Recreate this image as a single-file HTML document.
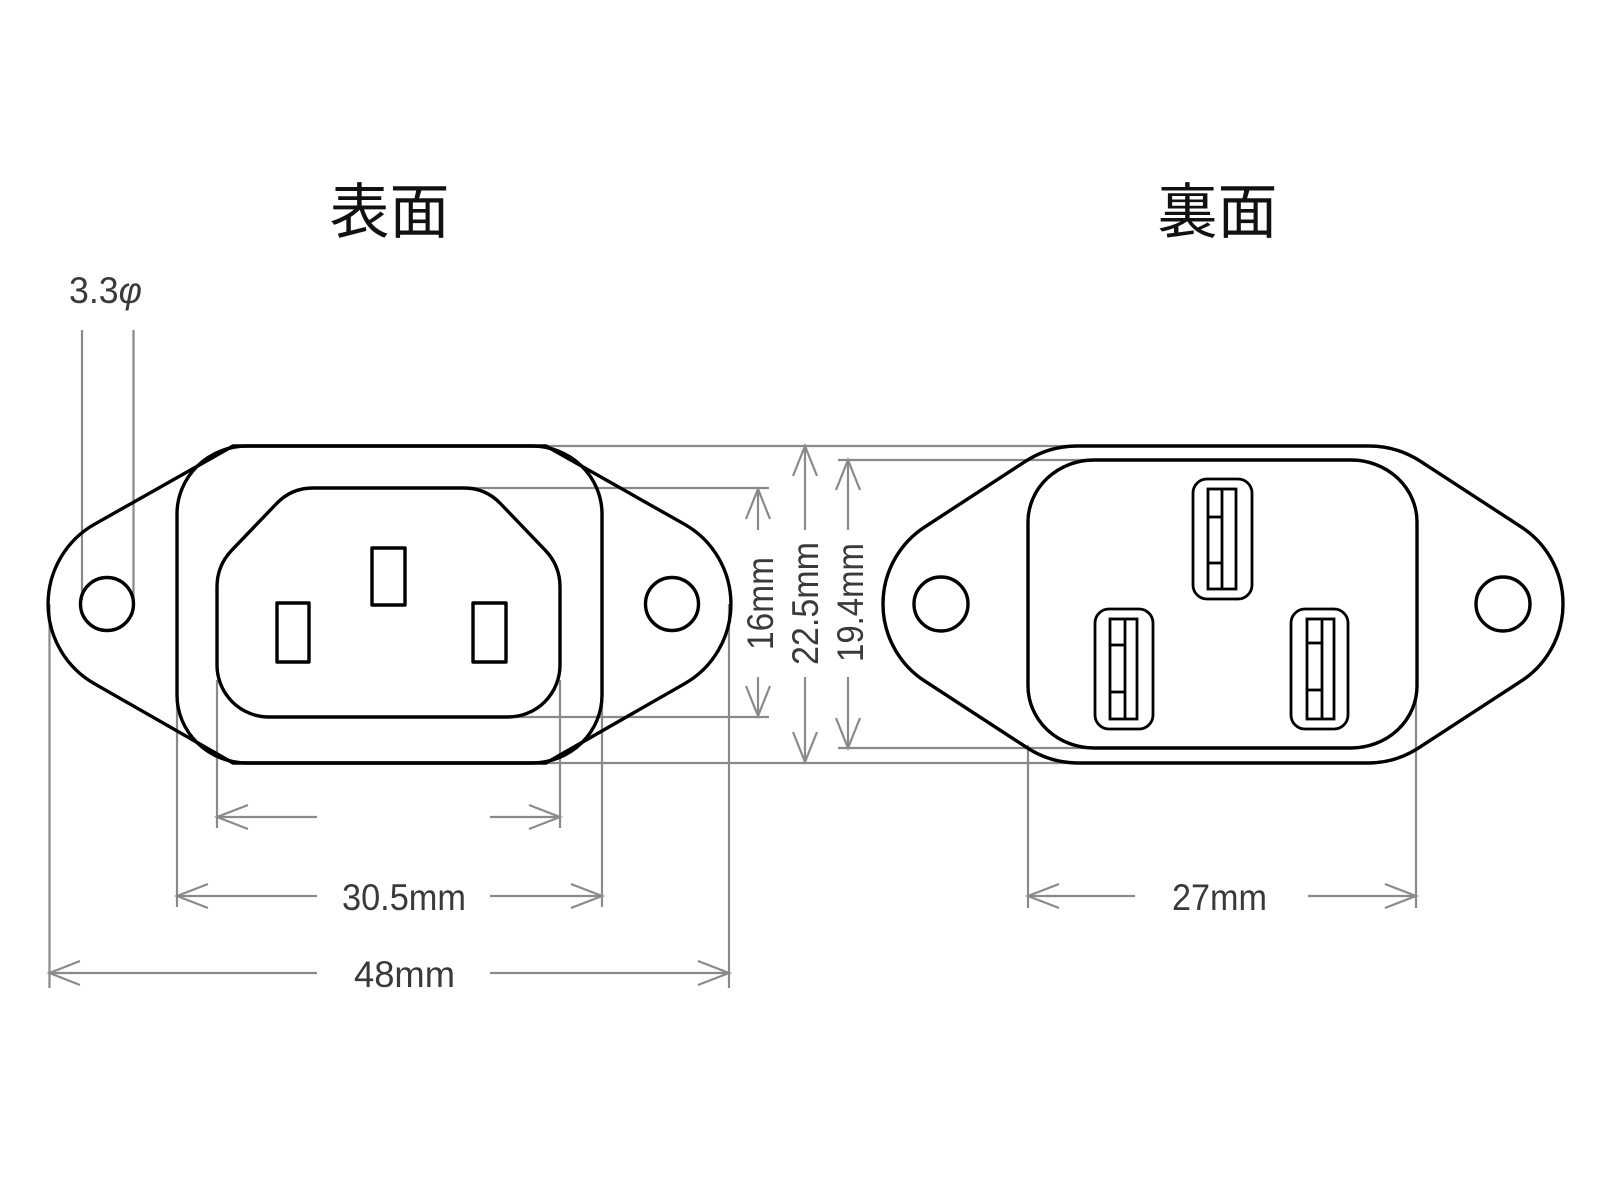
<!DOCTYPE html>
<html>
<head>
<meta charset="utf-8">
<style>
  html,body{margin:0;padding:0;background:#fff;}
  body{width:1600px;height:1200px;overflow:hidden;}
  svg{display:block;}
  .ol{fill:none;stroke:#000;stroke-width:3.4;stroke-linejoin:round;}
  .so{fill:none;stroke:#000;stroke-width:2.8;}
  .dm{fill:none;stroke:#8a8a8a;stroke-width:2.2;}
  .tx{font-family:"Liberation Sans","Noto Sans CJK JP",sans-serif;fill:#3a3a3a;font-size:37px;}
  .tt{font-family:"Liberation Sans","Noto Sans CJK JP",sans-serif;fill:#111;font-size:60px;}
</style>
</head>
<body>
<svg width="1600" height="1200" viewBox="0 0 1600 1200" xmlns="http://www.w3.org/2000/svg">
  <rect width="1600" height="1200" fill="#fff"/>

  <!-- Titles -->
  <text class="tt" x="389.5" y="233" text-anchor="middle">表面</text>
  <text class="tt" x="1217.5" y="233" text-anchor="middle">裏面</text>

  <!-- 3.3φ -->
  <text class="tx" x="69" y="303" font-size="38" textLength="73" lengthAdjust="spacingAndGlyphs">3.3<tspan font-style="italic">φ</tspan></text>

  <!-- ============ dimension lines (gray) ============ -->
  <g class="dm">
    <line x1="82" y1="330" x2="82" y2="600"/>
    <line x1="133.5" y1="330" x2="133.5" y2="600"/>

    <line x1="49.5" y1="604" x2="49.5" y2="988"/>
    <line x1="729" y1="604" x2="729" y2="988"/>
    <line x1="177" y1="700" x2="177" y2="907"/>
    <line x1="602" y1="700" x2="602" y2="907"/>
    <line x1="217" y1="680" x2="217" y2="828"/>
    <line x1="560" y1="680" x2="560" y2="828"/>

    <line x1="217" y1="817" x2="317" y2="817"/>
    <line x1="490" y1="817" x2="560" y2="817"/>
    <polyline points="248,805 217,817 248,829"/>
    <polyline points="529,805 560,817 529,829"/>

    <line x1="177" y1="896" x2="317" y2="896"/>
    <line x1="490" y1="896" x2="602" y2="896"/>
    <polyline points="208,884 177,896 208,908"/>
    <polyline points="571,884 602,896 571,908"/>

    <line x1="49.5" y1="973" x2="317" y2="973"/>
    <line x1="490" y1="973" x2="729" y2="973"/>
    <polyline points="80,961 49.5,973 80,985"/>
    <polyline points="698,961 729,973 698,985"/>

    <line x1="532" y1="446" x2="1077" y2="446"/>
    <line x1="532" y1="763" x2="1077" y2="763"/>
    <line x1="464" y1="488" x2="769" y2="488"/>
    <line x1="508" y1="717" x2="769" y2="717"/>
    <line x1="838" y1="460" x2="1093" y2="460"/>
    <line x1="838" y1="748" x2="1093" y2="748"/>

    <line x1="758" y1="489" x2="758" y2="530"/>
    <line x1="758" y1="677" x2="758" y2="716"/>
    <polyline points="746,519 758,489 770,519"/>
    <polyline points="746,686 758,716 770,686"/>

    <line x1="805" y1="446" x2="805" y2="530"/>
    <line x1="805" y1="677" x2="805" y2="762"/>
    <polyline points="793,476 805,446 817,476"/>
    <polyline points="793,732 805,762 817,732"/>

    <line x1="848" y1="460" x2="848" y2="530"/>
    <line x1="848" y1="677" x2="848" y2="748"/>
    <polyline points="836,490 848,460 860,490"/>
    <polyline points="836,718 848,748 860,718"/>

    <line x1="1028" y1="745" x2="1028" y2="908"/>
    <line x1="1416" y1="700" x2="1416" y2="908"/>
    <line x1="1028" y1="896" x2="1135" y2="896"/>
    <line x1="1308" y1="896" x2="1416" y2="896"/>
    <polyline points="1059,884 1028,896 1059,908"/>
    <polyline points="1385,884 1416,896 1385,908"/>
  </g>

  <!-- dimension texts -->
  <text class="tx" x="342" y="910" textLength="124" lengthAdjust="spacingAndGlyphs">30.5mm</text>
  <text class="tx" x="354" y="987" textLength="101" lengthAdjust="spacingAndGlyphs">48mm</text>
  <text class="tx" x="1172" y="910" textLength="95" lengthAdjust="spacingAndGlyphs">27mm</text>
  <text class="tx" transform="translate(773,650) rotate(-90)" x="0" y="0" textLength="93" lengthAdjust="spacingAndGlyphs">16mm</text>
  <text class="tx" transform="translate(818,665) rotate(-90)" x="0" y="0" textLength="123" lengthAdjust="spacingAndGlyphs">22.5mm</text>
  <text class="tx" transform="translate(863,662) rotate(-90)" x="0" y="0" textLength="119" lengthAdjust="spacingAndGlyphs">19.4mm</text>

  <!-- ============ Left connector (表面) ============ -->
  <g class="ol">
    <path d="M233,446 L546,446 L684.4,524.2 A91.7 91.7 0 0 1 684.4,683.8 L546,763 L233,763 L94.6,683.8 A91.7 91.7 0 0 1 94.6,524.2 Z"/>
    <rect x="177" y="446" width="425" height="317" rx="70" ry="68"/>
    <path d="M313,488 L464,488 Q485.5,488 500.4,503.5 L545.2,550.2 Q560,565.6 560,587 L560,665 A52 52 0 0 1 508,717 L269,717 A52 52 0 0 1 217,665 L217,587 Q217,565.6 231.8,550.2 L276.6,503.5 Q291.5,488 313,488 Z"/>
    <circle cx="107" cy="604" r="26.5"/>
    <circle cx="672" cy="604" r="26.5"/>
    <rect x="372" y="548" width="33" height="57"/>
    <rect x="277" y="603" width="32" height="59"/>
    <rect x="473" y="603" width="33" height="59"/>
  </g>

  <!-- ============ Right connector (裏面) ============ -->
  <g class="ol">
    <path d="M1077,446 L1369,446 A94.5 94.5 0 0 1 1420.5,461.3 L1521.2,526.9 A92 92 0 0 1 1521.2,681.1 L1420.5,746.7 A94.5 94.5 0 0 1 1369,763 L1077,763 A94.5 94.5 0 0 1 1025.5,746.7 L924.8,681.1 A92 92 0 0 1 924.8,526.9 L1025.5,461.3 A94.5 94.5 0 0 1 1077,446 Z"/>
    <rect x="1028" y="460" width="389" height="288" rx="66" ry="62"/>
    <circle cx="941" cy="604" r="27"/>
    <circle cx="1503" cy="604" r="27"/>
  </g>

  <g class="so">
    <rect x="1193" y="479" width="59" height="120" rx="14" ry="14"/>
    <rect x="1208" y="489" width="28" height="100"/>
    <line x1="1222" y1="489" x2="1222" y2="589"/>
    <line x1="1208" y1="517" x2="1222" y2="517"/>
    <line x1="1208" y1="563" x2="1222" y2="563"/>

    <rect x="1095" y="609" width="58" height="120" rx="14" ry="14"/>
    <rect x="1110" y="619" width="27" height="100"/>
    <line x1="1125" y1="619" x2="1125" y2="719"/>
    <line x1="1110" y1="645" x2="1125" y2="645"/>
    <line x1="1110" y1="692" x2="1125" y2="692"/>

    <rect x="1291" y="609" width="57" height="120" rx="14" ry="14"/>
    <rect x="1307" y="619" width="27" height="100"/>
    <line x1="1322" y1="619" x2="1322" y2="719"/>
    <line x1="1307" y1="643" x2="1322" y2="643"/>
    <line x1="1307" y1="690" x2="1322" y2="690"/>
  </g>
</svg>
</body>
</html>
